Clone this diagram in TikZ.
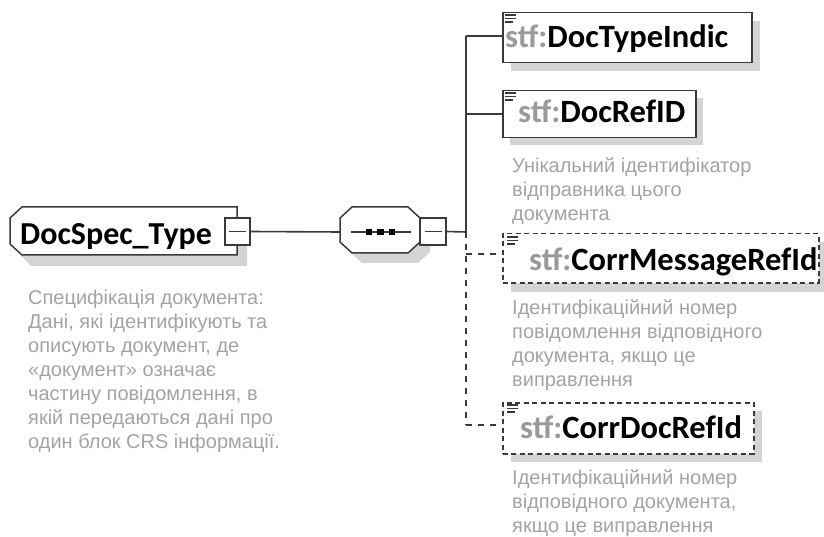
\documentclass[tikz,border=0pt]{standalone}
\usepackage{fontspec}
\setmainfont{Carlito}
\newfontfamily\descfont{Liberation Sans}
\usetikzlibrary{shapes.misc}
\definecolor{descgray}{HTML}{A3A3A3}
\definecolor{prefgray}{HTML}{9A9A9A}
\definecolor{shadowgray}{HTML}{D4D4D4}
\definecolor{linegray}{HTML}{3A3A3A}
\begin{document}
\begin{tikzpicture}[x=1pt,y=-1pt,
  boxline/.style={draw=linegray, line width=1.5pt},
  elembox/.style={boxline, fill=white},
  optbox/.style={boxline, fill=white, dash pattern=on 5pt off 3.5pt},
  shade/.style={fill=shadowgray, draw=none},
  conn/.style={draw=linegray, line width=1.6pt},
  optconn/.style={conn, dash pattern=on 6pt off 6pt},
  namefont/.style={font=\fontsize{32.5}{32.5}\selectfont\bfseries, inner sep=0pt, anchor=base west},
  desc/.style={font=\descfont\fontsize{20}{24}\selectfont, text=descgray, align=left, anchor=base west, inner sep=0pt},
  icon/.style={draw=linegray, line width=1.1pt},
  expander/.style={draw=linegray, line width=1.5pt, fill=white, inner sep=0pt}
]
\useasboundingbox (0,0) rectangle (824,537);
\clip (0,0) rectangle (824,537);

% ---------- DocSpec_Type ----------
\fill[shade] (32,217) -- (247,217) -- (247,266) -- (31,266) -- (20,255) -- (20,228) -- cycle;
\path[elembox] (22,207) -- (237,207) -- (237,255) -- (22,255) -- (10,244) -- (10,218) -- cycle;
\node[namefont, font=\fontsize{32}{32}\selectfont\bfseries] (docspec) at (20,244.5) {DocSpec\_Type};
\node[expander, minimum width=25pt, minimum height=27pt] (exp1) at (237.5,231.5) {};
\draw[conn] (exp1.center) ++(-8.5,0) -- ++(17,0);
\node[desc] (docspecdesc) at (28,448) {Специфікація документа:\\Дані, які ідентифікують та\\описують документ, де\\«документ» означає\\частину повідомлення, в\\якій передаються дані про\\один блок CRS інформації.};

% ---------- sequence compositor ----------
\fill[shade] (362,217) -- (418,217) -- (430,228) -- (430,252) -- (418,263) -- (362,263) -- (350,252) -- (350,228) -- cycle;
\path[elembox] (352,207) -- (408,207) -- (420,218) -- (420,242) -- (408,253) -- (352,253) -- (340,242) -- (340,218) -- cycle;
\draw[conn] (351,232) -- (411,232);
\foreach \xx in {369,380.5,392} \fill[black] (\xx-3.3,228.7) rectangle (\xx+3.3,235.3);
\node[expander, minimum width=26pt, minimum height=27pt] (exp2) at (433,231.5) {};
\draw[conn] (exp2.center) ++(-8.5,0) -- ++(17,0);
\coordinate (seqin) at (340,232);

\draw[conn] (exp1.east) -- (seqin);

% ---------- bus ----------
\coordinate (bustop) at (466,36);
\coordinate (busmid) at (466,232);
\coordinate (busbot) at (466,425);
\draw[conn] (exp2.east) -- (busmid);
\draw[conn] (bustop) -- (busmid);
\draw[optconn] (busmid) -- (busbot);

% ---------- DocTypeIndic ----------
\fill[shade] (511,21) rectangle (760,71);
\node[elembox, minimum width=249pt, minimum height=50pt, anchor=north west, inner sep=0pt] (e1) at (502,12) {};
\draw[icon] (505,15) -- (516,15) (505,18.5) -- (516,18.5) (505,22) -- (513,22);
\node[namefont] (e1t) at (505,47.5) {\textcolor{prefgray}{stf:}DocTypeIndic};
\draw[conn] (bustop) -- (e1.west |- bustop);

% ---------- DocRefID ----------
\fill[shade] (510,98) rectangle (703,145);
\node[elembox, minimum width=193pt, minimum height=47pt, anchor=north west, inner sep=0pt] (e2) at (502,90) {};
\draw[icon] (505,93) -- (516,93) (505,96.5) -- (516,96.5) (505,100) -- (513,100);
\node[namefont] (e2t) at (518,123) {\textcolor{prefgray}{stf:}DocRefID};
\draw[conn] (466,114) -- (e2.west |- 0,114);
\node[desc] (e2d) at (512,221) {Унікальний ідентифікатор\\відправника цього\\документа};

% ---------- CorrMessageRefId ----------
\fill[shade] (511,242) rectangle (824,292);
\node[optbox, minimum width=316pt, minimum height=49pt, anchor=north west, inner sep=0pt] (e3) at (502,233) {};
\draw[icon] (507,237) -- (518,237) (507,240.5) -- (518,240.5) (507,244) -- (515,244);
\node[namefont] (e3t) at (529,270) {\textcolor{prefgray}{stf:}CorrMessageRefId};
\draw[optconn] (466,254) -- (e3.west |- 0,254);
\node[desc] (e3d) at (512,386) {Ідентифікаційний номер\\повідомлення відповідного\\документа, якщо це\\виправлення};

% ---------- CorrDocRefId ----------
\fill[shade] (511,411) rectangle (762,462);
\node[optbox, minimum width=251pt, minimum height=51pt, anchor=north west, inner sep=0pt] (e4) at (502,402) {};
\draw[icon] (507,405) -- (518,405) (507,408.5) -- (518,408.5) (507,412) -- (515,412);
\node[namefont] (e4t) at (520,438) {\textcolor{prefgray}{stf:}CorrDocRefId};
\draw[optconn] (busbot) -- (e4.west |- busbot);
\node[desc] (e4d) at (512,532) {Ідентифікаційний номер\\відповідного документа,\\якщо це виправлення};
\end{tikzpicture}
\end{document}
